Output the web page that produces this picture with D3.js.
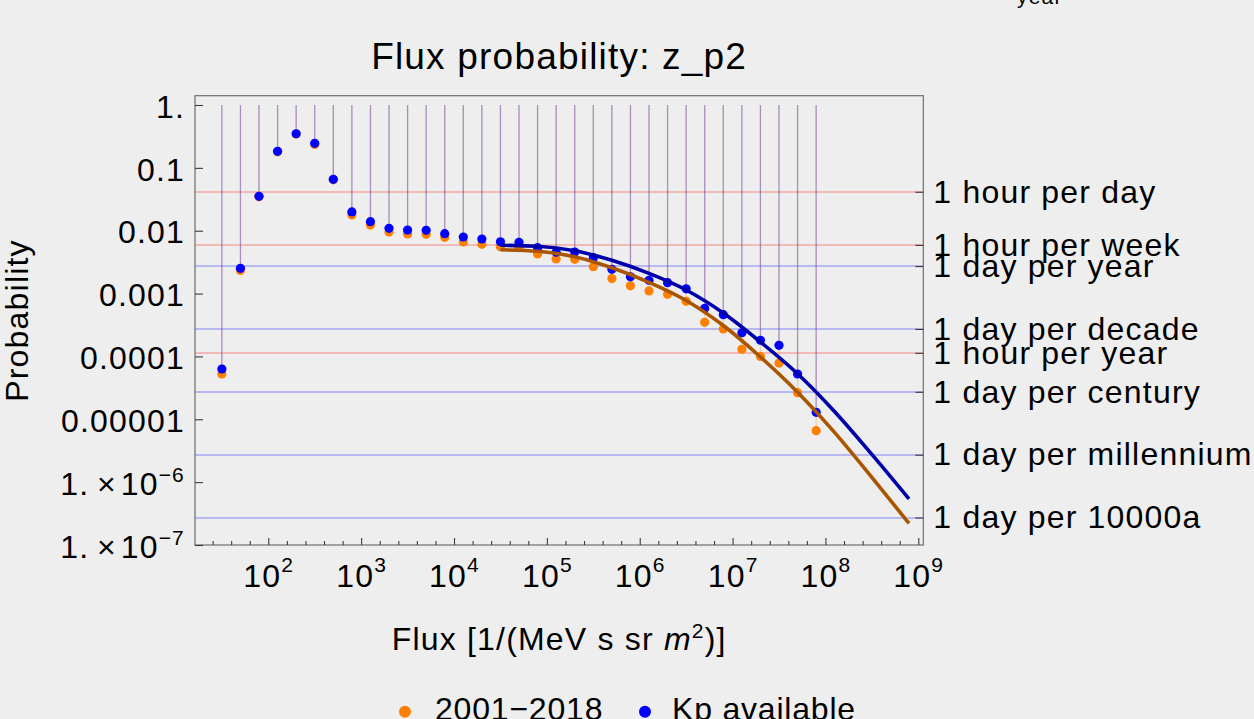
<!DOCTYPE html>
<html>
<head>
<meta charset="utf-8">
<script src="https://cdn.jsdelivr.net/npm/d3@7"></script>
<style>
  html, body { margin: 0; padding: 0; background: #eeeeee; }
  svg { display: block; font-family: "Liberation Sans", Arial, Helvetica, sans-serif; }
  text { fill: #000; letter-spacing: 1.2px; }
</style>
</head>
<body>
<svg id="chart" width="1254" height="719"></svg>
<script>
// Flux bin centres [1/(MeV s sr m^2)], 0.2-decade spacing
const fluxBins = [
  3.162e1, 5.012e1, 7.943e1, 1.259e2, 1.995e2, 3.162e2, 5.012e2, 7.943e2,
  1.259e3, 1.995e3, 3.162e3, 5.012e3, 7.943e3, 1.259e4, 1.995e4, 3.162e4,
  5.012e4, 7.943e4, 1.259e5, 1.995e5, 3.162e5, 5.012e5, 7.943e5, 1.259e6,
  1.995e6, 3.162e6, 5.012e6, 7.943e6, 1.259e7, 1.995e7, 3.162e7, 5.012e7,
  7.943e7
];

// Probability per bin, full period 2001-2018
const probAll = [
  5.25e-5, 2.33e-3, 0.0347, 0.180, 0.345, 0.236, 0.0646, 0.0178,
  0.0123, 0.00955, 0.00887, 0.00877, 0.00785, 0.00661, 0.00608, 0.00557,
  0.00541, 0.00427, 0.00355, 0.00351, 0.00268, 0.00173, 0.00133, 0.00110,
  9.73e-4, 7.53e-4, 3.49e-4, 2.73e-4, 1.30e-4, 1.00e-4, 7.85e-5, 2.65e-5,
  6.58e-6
];

// Probability per bin, periods with Kp available
const probKp = [
  6.31e-5, 2.52e-3, 0.0353, 0.183, 0.349, 0.246, 0.0658, 0.0199,
  0.0139, 0.0109, 0.01026, 0.01016, 0.00897, 0.00794, 0.00738, 0.00668,
  0.00655, 0.00537, 0.00454, 0.00458, 0.00372, 0.00243, 0.00185, 0.00163,
  0.00149, 0.00119, 5.83e-4, 4.61e-4, 2.38e-4, 1.81e-4, 1.50e-4, 5.25e-5,
  1.29e-5
];

// Tail fits, sampled along the flux axis
const fitFlux = [3.162e4, 7.943e4, 1.995e5, 5.012e5, 1.259e6, 3.162e6,
                 7.943e6, 1.995e7, 5.012e7, 1.259e8, 3.162e8, 7.943e8];
const fitAll = [4.97e-3, 4.70e-3, 3.85e-3, 2.57e-3, 1.51e-3, 7.76e-4,
                3.10e-4, 9.8e-5, 2.70e-5, 6.14e-6, 1.19e-6, 2.21e-7];
const fitKp  = [5.86e-3, 5.65e-3, 4.79e-3, 3.38e-3, 2.09e-3, 1.14e-3,
                4.91e-4, 1.70e-4, 5.31e-5, 1.32e-5, 2.76e-6, 5.40e-7];

// Reference recurrence levels (right axis)
const refLabels = ["1 hour per day", "1 hour per week", "1 day per year",
                   "1 day per decade", "1 hour per year", "1 day per century",
                   "1 day per millennium", "1 day per 10000a"];
const refValues = [1 / 24, 1 / 168, 1 / 365.25, 1 / 3652.5, 1 / 8766,
                   1 / 36525, 1 / 365250, 1 / 3652500];
const refKinds  = ["hour", "hour", "day", "day", "hour", "day", "day", "day"];

// Axis ticks
const yTicks = [1, 0.1, 0.01, 0.001, 0.0001, 0.00001, 1e-6, 1e-7];
const yTickLabels = ["1.", "0.1", "0.01", "0.001", "0.0001", "0.00001", "1.×10^−6", "1.×10^−7"];
const xTicks = [1e2, 1e3, 1e4, 1e5, 1e6, 1e7, 1e8, 1e9];
const xTickExps = ["2", "3", "4", "5", "6", "7", "8", "9"];

const seriesNames = ["2001−2018", "Kp available"];

// ---------------------------------------------------------------
const svg = d3.select("#chart");
const frame = { left: 195, right: 923.3, top: 95.7, bottom: 545 };

const x = d3.scaleLog().domain([1e2, 1e9]).range([268.3, 918.3]);
const y = d3.scaleLog().domain([1e-7, 1]).range([545, 105]);

const colAll = "#ff8000", colKp = "#0000ff";
const colFitAll = "#aa5500", colFitKp = "#0000aa";

// Reference grid lines, centred on a pixel boundary so they keep their tint
svg.append("g").selectAll("line").data(refValues).join("line")
  .attr("x1", frame.left).attr("x2", frame.right)
  .attr("y1", d => Math.round(y(d))).attr("y2", d => Math.round(y(d)))
  .attr("stroke", (d, i) => refKinds[i] === "hour" ? "rgba(255,0,0,0.3)" : "rgba(0,0,255,0.3)")
  .attr("stroke-width", 1.5);

// Drop lines from each point up to probability 1
function dropLines(vals, color) {
  svg.append("g").selectAll("line").data(vals).join("line")
    .attr("x1", (d, i) => x(fluxBins[i])).attr("x2", (d, i) => x(fluxBins[i]))
    .attr("y1", y(1)).attr("y2", d => y(d))
    .attr("stroke", color).attr("stroke-width", 1.3);
}
dropLines(probAll, "rgba(255,128,0,0.3)");
dropLines(probKp, "rgba(0,0,255,0.3)");

// Points
function dots(vals, color) {
  svg.append("g").selectAll("circle").data(vals).join("circle")
    .attr("cx", (d, i) => x(fluxBins[i])).attr("cy", d => y(d))
    .attr("r", 4.6).attr("fill", color);
}
dots(probAll, colAll);
dots(probKp, colKp);

// Fit curves
const fitLine = d3.line()
  .x((d, i) => x(fitFlux[i]))
  .y(d => y(d))
  .curve(d3.curveMonotoneX);
svg.append("path").attr("d", fitLine(fitAll))
  .attr("fill", "none").attr("stroke", colFitAll).attr("stroke-width", 3.6);
svg.append("path").attr("d", fitLine(fitKp))
  .attr("fill", "none").attr("stroke", colFitKp).attr("stroke-width", 3.6);

// Frame
svg.append("rect")
  .attr("x", frame.left).attr("y", frame.top)
  .attr("width", frame.right - frame.left).attr("height", frame.bottom - frame.top)
  .attr("fill", "none").attr("stroke", "#6e6e6e").attr("stroke-width", 1.2);

function styleAxis(g) {
  g.select(".domain").remove();
  g.selectAll(".tick line").attr("stroke", "#3a3a3a").attr("stroke-width", 1.1);
  g.selectAll("text").attr("font-family", null).attr("font-size", 32).attr("fill", "#000");
}

// Left axis
const yAxis = svg.append("g").attr("transform", `translate(${frame.left},0)`)
  .call(d3.axisLeft(y).tickValues(yTicks).tickSizeInner(-8).tickSizeOuter(0)
        .tickPadding(10).tickFormat(""))
  .call(styleAxis);
yAxis.selectAll(".tick text").each(function (d, i) {
  const t = d3.select(this).attr("dy", "0.38em");
  const parts = yTickLabels[i].split("^");
  if (parts.length === 1) {
    t.text(parts[0]);
  } else {
    const [base, mant] = parts[0].split("×");
    t.append("tspan").text(base + "\u2009×\u200a" + mant);
    t.append("tspan").attr("font-size", 21).attr("dy", -13).text(parts[1]);
  }
});

// Bottom axis: decades and 0.2-decade minor ticks
const minorTicks = [];
for (let e = 1.4; e <= 9.0001; e += 0.2) {
  if (Math.abs(e - Math.round(e)) > 1e-6) minorTicks.push(Math.pow(10, e));
}
svg.append("g").attr("transform", `translate(0,${frame.bottom})`)
  .call(d3.axisBottom(x).tickValues(minorTicks).tickSizeInner(-4).tickSizeOuter(0).tickFormat(""))
  .call(styleAxis);
const xAxis = svg.append("g").attr("transform", `translate(0,${frame.bottom})`)
  .call(d3.axisBottom(x).tickValues(xTicks).tickSizeInner(-7).tickSizeOuter(0).tickFormat(""))
  .call(styleAxis);
xAxis.selectAll(".tick text").each(function (d, i) {
  const t = d3.select(this).attr("y", 42.3).attr("dy", null);
  t.append("tspan").text("10");
  t.append("tspan").attr("font-size", 21).attr("dy", -15).text(xTickExps[i]);
});

// Right axis with recurrence labels
const rAxis = svg.append("g").attr("transform", `translate(${frame.right},0)`)
  .call(d3.axisRight(y).tickValues(refValues).tickSizeInner(-8).tickSizeOuter(0)
        .tickPadding(10).tickFormat((d, i) => refLabels[i]))
  .call(styleAxis);
rAxis.selectAll(".tick text").attr("dy", "0.32em");

// Title and axis titles
const cx = (frame.left + frame.right) / 2;
svg.append("text").attr("x", cx).attr("y", 69.3).attr("text-anchor", "middle")
  .attr("font-size", 37).text("Flux probability: z_p2");

const xt = svg.append("text").attr("x", cx).attr("y", 650).attr("text-anchor", "middle")
  .attr("font-size", 32);
xt.append("tspan").text("Flux [1/(MeV s sr ");
xt.append("tspan").attr("font-style", "italic").text("m");
xt.append("tspan").attr("font-size", 21).attr("dy", -12).text("2");
xt.append("tspan").attr("dy", 12).text(")]");

svg.append("text").attr("transform", "translate(27.5,320.5) rotate(-90)")
  .attr("text-anchor", "middle").attr("font-size", 32).text("Probability");

// Fragment of a label placed above the frame
svg.append("text").attr("x", 1017).attr("y", 4).attr("font-size", 21).text("year");

// Legend
const legend = svg.append("g");
const legendX = [405, 645];
const legendCol = [colAll, colKp];
legend.selectAll("circle").data(seriesNames).join("circle")
  .attr("cx", (d, i) => legendX[i]).attr("cy", 711.7).attr("r", 6)
  .attr("fill", (d, i) => legendCol[i]);
legend.selectAll("text").data(seriesNames).join("text")
  .attr("x", (d, i) => legendX[i] + (i === 0 ? 30 : 27)).attr("y", 720)
  .attr("font-size", 32).style("letter-spacing", "0.8px").text(d => d);
</script>
</body>
</html>
